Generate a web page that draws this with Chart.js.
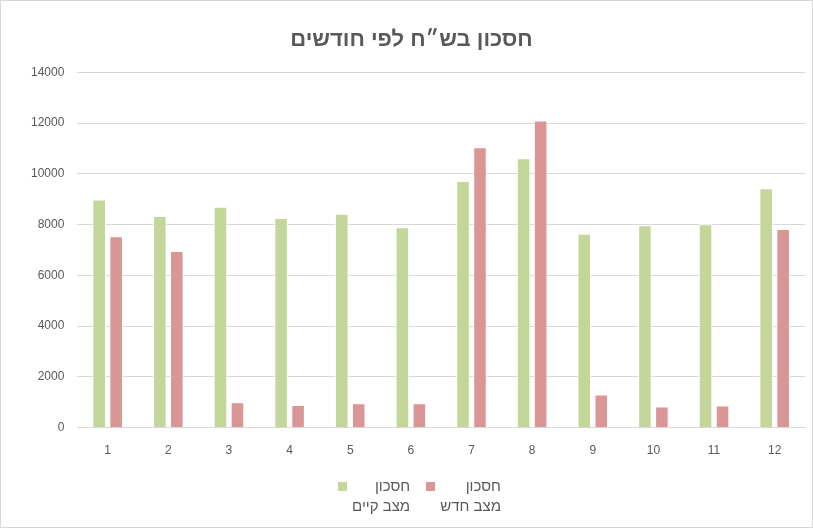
<!DOCTYPE html>
<html>
<head>
<meta charset="utf-8">
<script src="https://cdn.jsdelivr.net/npm/chart.js@4.4.1/dist/chart.umd.min.js"></script>
<style>
  html, body { margin: 0; padding: 0; background: #fff; }
  .wrap { position: relative; width: 811px; height: 526px; border: 1px solid #d9d9d9; }
  canvas { display: block; }
  .legend {
    position: absolute; left: 26px; right: 0; top: 475px;
    display: flex; justify-content: center; gap: 16px;
    font-family: "Liberation Sans", "Open Sans", sans-serif; font-size: 15px; color: #595959;
  }
  .item { display: flex; align-items: flex-start; gap: 5px; }
  .box { width: 9px; height: 9px; margin-top: 6px; }
  .txt { direction: rtl; text-align: right; line-height: 20px; }
</style>
</head>
<body>
<div class="wrap">
  <canvas id="chart" width="811" height="526"></canvas>
  <div class="legend" id="legend"></div>
</div>
<script>
const months = ['1', '2', '3', '4', '5', '6', '7', '8', '9', '10', '11', '12'];
const currentState = [8990, 8340, 8700, 8260, 8430, 7900, 9720, 10620, 7640, 7980, 8010, 9430];
const newState = [7540, 6960, 1000, 890, 960, 960, 11050, 12100, 1300, 830, 870, 7830];
const seriesNames = [['חסכון', 'מצב קיים'], ['חסכון', 'מצב חדש']];
const colors = ['#c4d79b', '#da9694'];

const font = '"Liberation Sans", "Open Sans", sans-serif';
const ctx = document.getElementById('chart').getContext('2d');
const chart = new Chart(ctx, {
  type: 'bar',
  data: {
    labels: months,
    datasets: [
      { label: seriesNames[0].join(' '), data: currentState, backgroundColor: colors[0],
        borderColor: '#ffffff', borderWidth: { left: 1, right: 1, top: 1 }, borderSkipped: 'bottom',
        barPercentage: 0.8, categoryPercentage: 0.56 },
      { label: seriesNames[1].join(' '), data: newState, backgroundColor: colors[1],
        borderColor: '#ffffff', borderWidth: { left: 1, right: 1, top: 1 }, borderSkipped: 'bottom',
        barPercentage: 0.8, categoryPercentage: 0.56 }
    ]
  },
  options: {
    responsive: false,
    animation: false,
    layout: { padding: { left: 17, right: 7, top: 0, bottom: 61 } },
    plugins: {
      legend: { display: false },
      tooltip: { enabled: false },
      title: {
        display: true,
        text: 'חסכון בש״ח לפי חודשים',
        color: '#595959',
        font: { family: font, size: 22, weight: 'bold' },
        padding: { top: 26, bottom: 19 }
      }
    },
    scales: {
      x: {
        grid: { display: false },
        border: { color: '#d9d9d9', width: 1 },
        ticks: { color: '#595959', font: { family: font, size: 12 }, padding: 8 }
      },
      y: {
        min: 0, max: 14000,
        ticks: { stepSize: 2000, color: '#595959', font: { family: font, size: 12 }, padding: 13,
          callback: v => String(v) },
        grid: { color: '#d9d9d9', lineWidth: 1, drawTicks: false },
        border: { display: false }
      }
    }
  }
});

// legend drawn as html so each label can sit on two lines
const legendEl = document.getElementById('legend');
chart.data.datasets.forEach((ds, i) => {
  const item = document.createElement('div');
  item.className = 'item';
  const box = document.createElement('div');
  box.className = 'box';
  box.style.background = colors[i];
  const txt = document.createElement('div');
  txt.className = 'txt';
  txt.innerHTML = seriesNames[i].join('<br>');
  item.appendChild(box);
  item.appendChild(txt);
  legendEl.appendChild(item);
});
</script>
</body>
</html>
